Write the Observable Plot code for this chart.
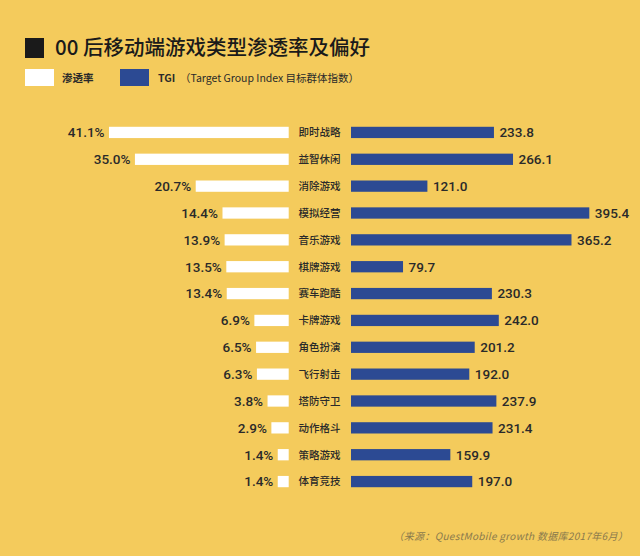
<!DOCTYPE html>
<html>
<head>
<meta charset="utf-8">
<script src="https://cdn.jsdelivr.net/npm/d3@7"></script>
<script src="https://cdn.jsdelivr.net/npm/@observablehq/plot@0.6"></script>
<style>
  html, body { margin: 0; padding: 0; background: #F4CB5C; }
  #wrap { position: relative; width: 640px; height: 556px; background: #F4CB5C; overflow: hidden;
          font-family: "Noto Sans CJK SC", "Noto Sans", sans-serif; }
  #wrap svg { position: absolute; left: 0; top: 0; }
  .abs { position: absolute; white-space: nowrap; }
  #title { left: 25px; top: 33px; font-size: 20.5px; font-weight: 500; color: #1a1a1a; line-height: 26px; }
  #title .sq { display: inline-block; width: 19px; height: 20px; background: #1a1a1a; vertical-align: -3px; margin-right: 11px; }
  .lg { top: 69px; width: 29px; height: 17px; }
  .lgt { top: 69px; font-size: 10.5px; line-height: 17px; color: #2a2a2a; }
  #cap { right: 12px; top: 528px; font-size: 10px; font-style: italic; color: #8a7a4c; line-height: 16px; letter-spacing: 0.3px; }
</style>
</head>
<body>
<div id="wrap">
  <div id="title" class="abs"><span class="sq"></span>00 后移动端游戏类型渗透率及偏好</div>
  <div class="abs lg" style="left:25px;background:#ffffff"></div>
  <div class="abs lgt" style="left:62px;font-weight:700">渗透率</div>
  <div class="abs lg" style="left:120px;background:#2C4A93"></div>
  <div class="abs lgt" style="left:158px"><b>TGI</b>&nbsp;&nbsp;（Target Group Index 目标群体指数）</div>
  <div id="cap" class="abs">（来源：QuestMobile growth 数据库2017年6月）</div>
</div>
<script>
const categories = ["即时战略","益智休闲","消除游戏","模拟经营","音乐游戏","棋牌游戏","赛车跑酷","卡牌游戏","角色扮演","飞行射击","塔防守卫","动作格斗","策略游戏","体育竞技"];
const penetration = [41.1,35.0,20.7,14.4,13.9,13.5,13.4,6.9,6.5,6.3,3.8,2.9,1.4,1.4];
const tgi = [233.8,266.1,121.0,395.4,365.2,79.7,230.3,242.0,201.2,192.0,237.9,231.4,159.9,197.0];

const rows = categories.map((c, i) => ({cat: c, p: penetration[i], t: tgi[i]}));

const numFont = 'Roboto, "DejaVu Sans", sans-serif';
const common = {
  width: 640, height: 556,
  marginTop: 119, marginBottom: 61, marginLeft: 0, marginRight: 0,
  style: {background: "transparent", overflow: "visible"},
  y: {domain: categories, paddingInner: 0.58, paddingOuter: 0.29, round: false, axis: null}
};

const left = Plot.plot({
  ...common,
  x: {domain: [0, 41.1], range: [283.7, 109], axis: null},
  marks: [
    Plot.barX(rows, {x1: () => 0, x2: "p", y: "cat", fill: "#ffffff", insetRight: -5}),
    Plot.text(rows, {x: "p", y: "cat", text: d => d.p.toFixed(1) + "%", textAnchor: "end", dx: -5,
      fontSize: 13.5, fontWeight: 500, fill: "#2a2a2a", fontFamily: numFont})
  ]
});

const right = Plot.plot({
  ...common,
  x: {domain: [0, 395.4], range: [356, 589.3], axis: null},
  marks: [
    Plot.barX(rows, {x1: () => 0, x2: "t", y: "cat", fill: "#2C4A93", insetLeft: -5}),
    Plot.text(rows, {x: "t", y: "cat", text: d => d.t.toFixed(1), textAnchor: "start", dx: 5,
      fontSize: 13.5, fontWeight: 500, fill: "#2a2a2a", fontFamily: numFont}),
    Plot.text(rows, {x: () => 0, y: "cat", text: "cat", textAnchor: "middle", dx: -37,
      fontSize: 10.5, fill: "#2a2a2a", fontWeight: 500, fontFamily: '"Noto Sans CJK SC", sans-serif'})
  ]
});

const wrap = document.getElementById("wrap");
wrap.appendChild(left);
wrap.appendChild(right);
</script>
</body>
</html>
